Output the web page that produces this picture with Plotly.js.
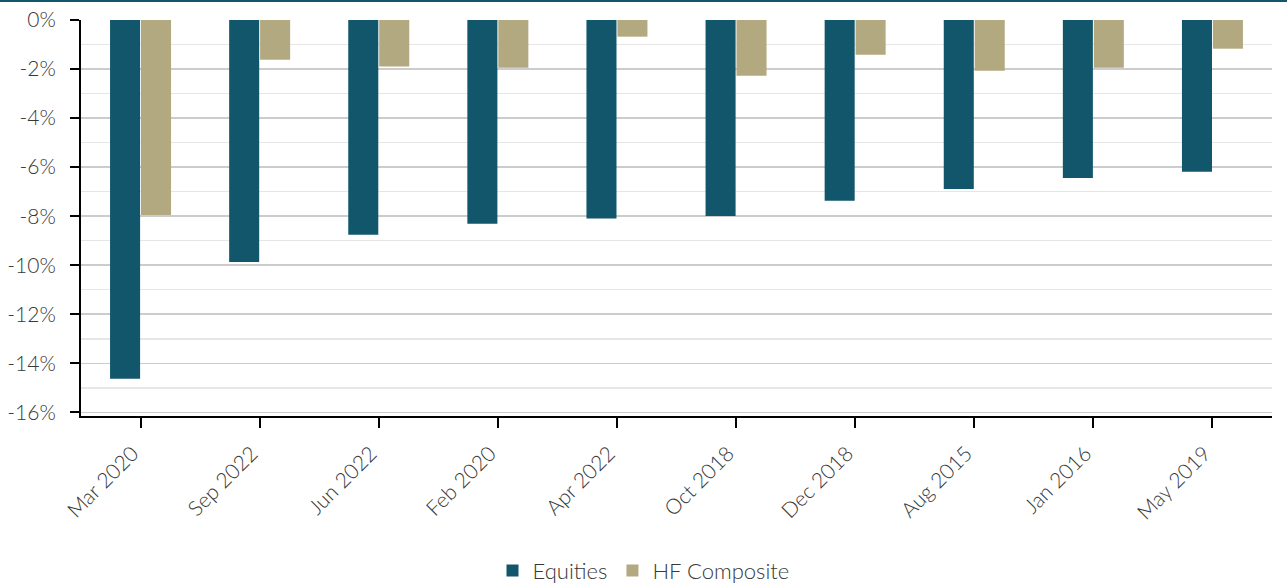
<!DOCTYPE html>
<html>
<head>
<meta charset="utf-8">
<script src="https://cdn.plot.ly/plotly-3.0.1.min.js"></script>
<style>
  html, body { margin: 0; padding: 0; background: #fff; }
  #chart { width: 1287px; height: 586px; }
</style>
</head>
<body>
<div id="chart"></div>
<script>
const categories = ["Mar 2020", "Sep 2022", "Jun 2022", "Feb 2020", "Apr 2022", "Oct 2018", "Dec 2018", "Aug 2015", "Jan 2016", "May 2019"];
const equities = [-14.63, -9.87, -8.76, -8.31, -8.10, -7.99, -7.37, -6.89, -6.44, -6.19];
const hfComposite = [-7.95, -1.62, -1.90, -1.95, -0.68, -2.27, -1.42, -2.07, -1.95, -1.17];
const yTickVals = [0, -2, -4, -6, -8, -10, -12, -14, -16];
const yTickText = ["0%", "-2%", "-4%", "-6%", "-8%", "-10%", "-12%", "-14%", "-16%"];

const FONT = "Lato, 'Open Sans', sans-serif";

const traces = [
  { type: "bar", name: "Equities", x: categories, y: equities,
    marker: { color: "#12566b" }, hoverinfo: "x+y" },
  { type: "bar", name: "HF Composite", x: categories, y: hfComposite,
    marker: { color: "#b2a981" }, hoverinfo: "x+y" }
];

const layout = {
  width: 1287, height: 586,
  margin: { l: 81, r: 15, t: 20, b: 170 },
  paper_bgcolor: "#ffffff", plot_bgcolor: "#ffffff",
  font: { family: FONT, size: 20, color: "#383838", weight: 300 },
  barmode: "group", bargap: 0.48, bargroupgap: 0.03,
  showlegend: true,
  legend: { orientation: "h", x: 0.5, xanchor: "center", xref: "container",
            y: 0.026, yanchor: "middle", yref: "container",
            font: { family: FONT, size: 22, color: "#383838", weight: 300 }, traceorder: "normal" },
  xaxis: {
    type: "category", tickangle: -45, automargin: false,
    showline: true, linecolor: "#000000", linewidth: 2,
    ticks: "outside", ticklen: 10, tickwidth: 2, tickcolor: "#000000",
    showgrid: false, zeroline: false,
    ticklabelstandoff: 5, ticklabelshift: -8,
    tickfont: { family: FONT, size: 21, color: "#383838", weight: 300 }
  },
  yaxis: {
    range: [-16.15, 0], tickmode: "array", tickvals: yTickVals, ticktext: yTickText,
    automargin: false,
    showline: true, linecolor: "#000000", linewidth: 2,
    ticks: "outside", ticklen: 9, tickwidth: 2, tickcolor: "#000000",
    showgrid: true, gridcolor: "#cccccc", gridwidth: 1.5,
    zeroline: false, ticklabelstandoff: 10,
    minor: { dtick: 1, tick0: 0, showgrid: true, gridcolor: "#e6e6e6", gridwidth: 1.5, ticks: "" },
    tickfont: { family: FONT, size: 21, color: "#383838", weight: 300 }
  },
  shapes: [
    { type: "line", xref: "paper", yref: "paper", x0: -0.1, x1: 1.1, y0: 1.048, y1: 1.048,
      line: { color: "#12566b", width: 2 } }
  ]
};

Plotly.newPlot("chart", traces, layout, { displayModeBar: false, staticPlot: true });
</script>
</body>
</html>
